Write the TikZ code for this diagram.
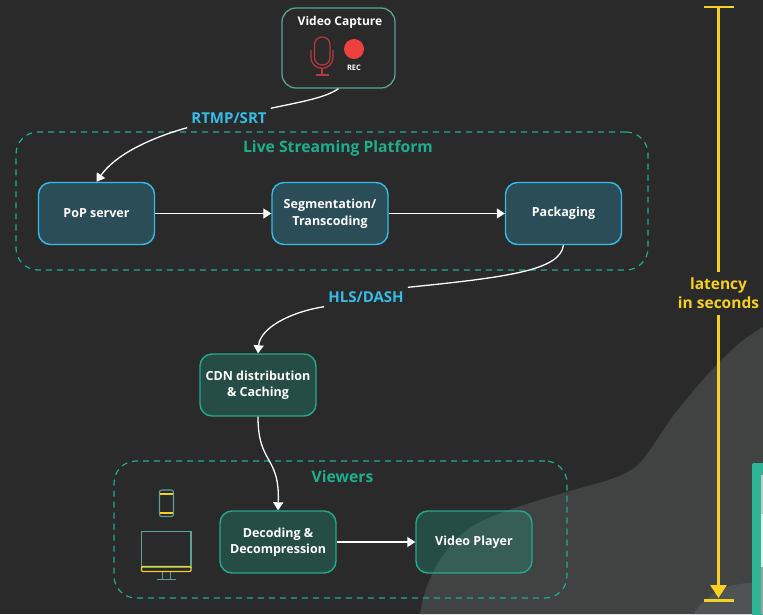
\documentclass[tikz,border=0pt]{standalone}
\usepackage{fontspec}
\setmainfont{Open Sans}
\usetikzlibrary{arrows.meta}

\definecolor{slidebg}{HTML}{2A2A2A}
\definecolor{swoosh}{HTML}{414343}
\definecolor{swooshlight}{HTML}{505353}
\definecolor{tealline}{HTML}{26A88C}
\definecolor{tealdash}{HTML}{1FAE8C}
\definecolor{tealbar}{HTML}{2DB595}
\definecolor{tealfill}{HTML}{1F9F85}
\definecolor{blueline}{HTML}{35BDE8}
\definecolor{bluefill}{HTML}{2F8FAF}
\definecolor{latencyyellow}{HTML}{F6D023}
\definecolor{micred}{HTML}{B8383F}
\definecolor{recred}{HTML}{EF4040}
\definecolor{iconteal}{HTML}{5AA393}

\tikzset{
    x=1pt, y=-1pt,
    stagebox/.style={draw=blueline, line width=1.4pt, fill=bluefill, fill opacity=0.35,
        text opacity=1, rounded corners=12pt, minimum width=116pt, minimum height=62pt,
        text=white, align=center, font=\fontsize{12.5}{16.5}\selectfont\bfseries},
    tealbox/.style={stagebox, draw=tealline, fill=tealfill, fill opacity=0.3},
    twolines/.style={execute at begin node=\rule{0pt}{16pt}},
    groupbox/.style={draw=tealdash, line width=1.2pt, dash pattern=on 6pt off 5pt,
        rounded corners=22pt},
    grouptitle/.style={text=tealdash, font=\fontsize{15.7}{18}\selectfont\bfseries},
    protocol/.style={text=blueline, inner sep=4pt, font=\fontsize{15}{18}\selectfont\bfseries},
    flow/.style={draw=white, line width=1.3pt, -{Triangle[width=10pt,length=8pt]}},
    flowplain/.style={draw=white, line width=1.3pt},
    latencyline/.style={draw=latencyyellow, line width=2.8pt},
    micline/.style={draw=micred, line width=1.2pt},
    iconline/.style={draw=iconteal, line width=1.1pt},
    iconband/.style={draw=latencyyellow, line width=1.1pt},
}

\begin{document}
\begin{tikzpicture}
\useasboundingbox (0,0) rectangle (763,614);

% background
\fill[slidebg] (0,0) rectangle (763,614);
\fill[swoosh] (420,614) .. controls (424,585) and (440,550) .. (467,530)
    .. controls (490,513) and (540,500) .. (567,492)
    .. controls (600,482) and (625,478) .. (640,463)
    .. controls (655,445) and (665,425) .. (680,407)
    .. controls (700,383) and (730,345) .. (763,327)
    -- (763,614) -- cycle;
\fill[swooshlight] (693,614) .. controls (700,603) and (715,590) .. (730,586)
    .. controls (738,584) and (745,583) .. (752,583) -- (752,614) -- cycle;
\fill[tealbar, rounded corners=2pt] (752,463) rectangle (775,630);
\fill[white!70!swoosh] (761,475) rectangle (763,514);
\fill[white!90!swoosh] (761,514) rectangle (763,567);
\fill[white!50!swoosh] (761,567) rectangle (763,614);

% groups
\node[groupbox, minimum width=632pt, minimum height=138pt] (platform) at (332,201) {};
\node[groupbox, minimum width=453pt, minimum height=137pt] (viewers) at (340.5,529.5) {};
\node[grouptitle] (platformtitle) at (338,148) {Live Streaming Platform};
\node[grouptitle] (viewerstitle) at (342.5,477) {Viewers};

% capture
\node[draw=iconteal, line width=1.3pt, rounded corners=14pt, minimum width=113pt, minimum height=80pt] (capture) at (338.5,48) {};
\node[text=white, font=\fontsize{12}{14}\selectfont\bfseries] (capturetitle) at (340,22) {Video Capture};
\draw[micline, rounded corners=7.5pt] (314.5,37) rectangle (330,65);
\draw[micline] (311,50) -- (311,57) .. controls (311,72) and (333,72) .. (333,57) -- (333,50);
\draw[micline] (322,68) -- (322,75);
\draw[micline] (316,75) -- (329,75);
\node[circle, fill=recred, minimum size=20pt, inner sep=0pt] (recdot) at (354,49) {};
\node[text=white, font=\fontsize{7.5}{9}\selectfont\bfseries] (reclabel) at (354,68) {REC};

% stages
\node[stagebox] (popserver) at (96.5,213.5) {PoP server};
\node[stagebox, twolines] (segment) at (330,213.5) {Segmentation/\\Transcoding};
\node[stagebox] (packaging) at (563.5,213.5) {Packaging};
\node[tealbox, twolines] (cdn) at (258,385) {CDN distribution\\\& Caching};
\node[tealbox, twolines] (decoding) at (278,542) {Decoding \&\\Decompression};
\node[tealbox] (player) at (474,542) {Video Player};

\node[protocol] (rtmp) at (229,118) {RTMP/SRT};
\node[protocol] (hls) at (366,297) {HLS/DASH};

% connectors
\draw[flowplain] (capture.south) .. controls (325,98) and (300,102) .. (rtmp.north east);
\draw[flow] (rtmp.south west) .. controls (150,138) and (115,155) .. (popserver.north);
\draw[flow] (popserver.east) -- (segment.west);
\draw[flow] (segment.east) -- (packaging.west);
\draw[flowplain] (packaging.south) .. controls (560,270) and (510,277) .. (hls.north east);
\draw[flow] (hls.south west) .. controls (290,312) and (260,328) .. (cdn.north);
\draw[flow] (cdn.south) .. controls (258,465) and (280,455) .. (decoding.north);
\draw[flow] (decoding.east) -- (player.west);

% devices
\draw[iconline, rounded corners=2pt] (159.5,490) rectangle (173.5,516.5);
\draw[iconband] (160,494) -- (173,494);
\draw[iconband] (160,513) -- (173,513);
\draw[iconline] (141.5,531.5) rectangle (191,567);
\draw[iconband, rounded corners=1pt] (141.5,566.5) rectangle (191,571.5);
\draw[iconline] (162.5,572) -- (162.5,579);
\draw[iconline] (170.5,572) -- (170.5,579);
\draw[iconline] (157,579.5) -- (176,579.5);

% latency scale
\node[text=latencyyellow, align=center, inner sep=6pt, font=\fontsize{15.5}{19}\selectfont\bfseries] (latency) at (718.5,293.5) {latency\\in seconds};
\coordinate (scaletop) at (718.5,7);
\coordinate (scalebottom) at (718.5,600);
\draw[latencyline] (704,7) -- (734,7);
\draw[latencyline] (704,600.5) -- (734,600.5);
\draw[latencyline] (scaletop) -- (latency.north);
\draw[latencyline, -{Triangle[width=16pt,length=13pt]}, shorten >=2pt] (latency.south) -- (scalebottom);
\end{tikzpicture}
\end{document}
